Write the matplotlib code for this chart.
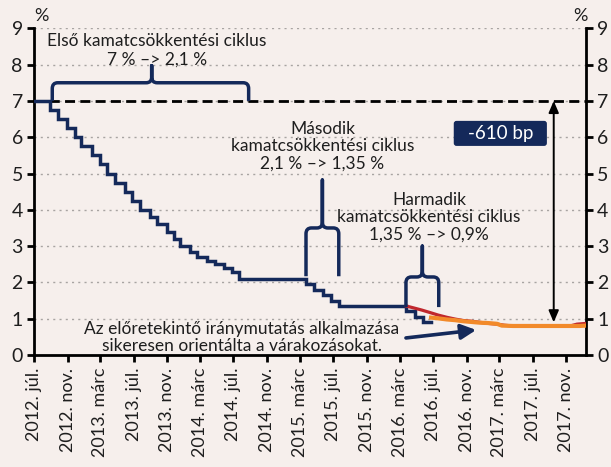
import matplotlib
matplotlib.use("Agg")
import matplotlib.pyplot as plt
import matplotlib.dates as mdates
from matplotlib.patches import FancyBboxPatch, PathPatch
from matplotlib.path import Path
import pandas as pd

plt.rcParams['font.family'] = ['Lato', 'DejaVu Sans']

# jegybanki alapkamat (%), hatályba lépés napja
base_dates = ["2012-07-01", "2012-08-29", "2012-09-26", "2012-10-31", "2012-11-28",
              "2012-12-19", "2013-01-30", "2013-02-27", "2013-03-27", "2013-04-24",
              "2013-05-29", "2013-06-26", "2013-07-24", "2013-08-28", "2013-09-25",
              "2013-10-30", "2013-11-27", "2013-12-18", "2014-01-22", "2014-02-19",
              "2014-03-26", "2014-04-23", "2014-05-28", "2014-06-25", "2014-07-23",
              "2015-03-25", "2015-04-22", "2015-05-27", "2015-06-24", "2015-07-22",
              "2016-03-23", "2016-04-27", "2016-05-25", "2016-06-24"]
base_rate = [7.0, 6.75, 6.5, 6.25, 6.0,
             5.75, 5.5, 5.25, 5.0, 4.75,
             4.5, 4.25, 4.0, 3.8, 3.6,
             3.4, 3.2, 3.0, 2.85, 2.7,
             2.6, 2.5, 2.4, 2.3, 2.1,
             1.95, 1.8, 1.65, 1.5, 1.35,
             1.2, 1.05, 0.9, 0.9]

# piaci várakozások (korábbi)
exp1_dates = ["2016-03-25", "2016-04-20", "2016-05-20", "2016-06-20", "2016-07-20",
              "2016-08-20", "2016-09-20", "2016-10-20", "2016-11-20", "2016-12-20",
              "2017-01-20", "2017-02-20", "2017-03-20", "2017-04-20", "2017-06-20",
              "2017-08-20", "2017-10-20", "2017-11-20", "2017-12-10", "2018-01-12"]
exp1_rate = [1.35, 1.3, 1.24, 1.17, 1.1,
             1.04, 0.99, 0.95, 0.93, 0.9,
             0.87, 0.85, 0.82, 0.8, 0.8,
             0.8, 0.8, 0.81, 0.85, 0.87]

# piaci várakozások (későbbi)
exp2_dates = ["2016-06-24", "2016-07-20", "2016-08-20", "2016-09-20", "2016-10-20",
              "2016-11-20", "2016-12-20", "2017-01-20", "2017-02-20", "2017-03-10",
              "2017-04-20", "2017-06-20", "2017-08-20", "2017-10-20", "2017-12-20",
              "2018-01-12"]
exp2_rate = [1.03, 1.01, 0.98, 0.96, 0.93,
             0.91, 0.89, 0.88, 0.86, 0.81,
             0.8, 0.8, 0.8, 0.8, 0.8,
             0.81]

tick_dates = ["2012-07-01", "2012-11-01", "2013-03-01", "2013-07-01", "2013-11-01",
              "2014-03-01", "2014-07-01", "2014-11-01", "2015-03-01", "2015-07-01",
              "2015-11-01", "2016-03-01", "2016-07-01", "2016-11-01", "2017-03-01",
              "2017-07-01", "2017-11-01"]
tick_labels = ["2012. júl.", "2012. nov.", "2013. márc", "2013. júl.", "2013. nov.",
               "2014. márc", "2014. júl.", "2014. nov.", "2015. márc", "2015. júl.",
               "2015. nov.", "2016. márc", "2016. júl.", "2016. nov.", "2017. márc",
               "2017. júl.", "2017. nov."]

navy = "#14295a"
red = "#c0272d"
orange = "#f28a2a"
bg = "#f6efec"
txt = "#1e1e1e"

d = lambda s: mdates.date2num(pd.Timestamp(s))

fig = plt.figure(figsize=(6.11, 4.67), dpi=100, facecolor=bg)
ax = fig.add_axes([0.0556, 0.2398, 0.9034, 0.6996], facecolor=bg)

ax.set_xlim(d("2012-07-01"), d("2018-01-12"))
ax.set_ylim(0, 9)

for yv in range(1, 10):
    ax.axhline(yv, color="#a8a4a2", lw=1, ls=(0, (1.5, 3)), zorder=1)
ax.axhline(7, color="black", lw=2, ls=(0, (3.6, 1.9)), zorder=2)

ax.step([d(s) for s in base_dates], base_rate, where="post", color=navy, lw=2.5,
        zorder=4, solid_joinstyle="miter")
ax.plot([d(s) for s in exp1_dates], exp1_rate, color=red, lw=2.3, zorder=5)
ax.plot([d(s) for s in exp2_dates], exp2_rate, color=orange, lw=3, zorder=6)


def brace(x0, x1, xm, y_leg, y_bar, y_peak, rx=20, ry=0.16):
    x0, x1, xm = d(x0), d(x1), d(xm)
    s = 1 if y_peak > y_bar else -1
    verts = [(x0, y_leg), (x0, y_bar - s * ry), (x0, y_bar), (x0 + rx, y_bar),
             (xm - rx, y_bar), (xm, y_bar), (xm, y_bar + s * ry), (xm, y_peak),
             (xm, y_bar + s * ry), (xm, y_bar), (xm + rx, y_bar),
             (x1 - rx, y_bar), (x1, y_bar), (x1, y_bar - s * ry), (x1, y_leg)]
    codes = [Path.MOVETO, Path.LINETO, Path.CURVE3, Path.CURVE3,
             Path.LINETO, Path.CURVE3, Path.CURVE3, Path.LINETO,
             Path.LINETO, Path.CURVE3, Path.CURVE3,
             Path.LINETO, Path.CURVE3, Path.CURVE3, Path.LINETO]
    ax.add_patch(PathPatch(Path(verts, codes), fill=False, ec=navy, lw=2.5,
                           capstyle="butt", joinstyle="round", zorder=7))


brace("2012-09-06", "2014-08-26", "2013-09-05", 7.0, 7.5, 7.97)
brace("2015-03-24", "2015-07-22", "2015-05-23", 2.17, 3.5, 4.82)
brace("2016-03-24", "2016-07-22", "2016-05-23", 1.32, 2.15, 3.0)

fs = 12.5
ax.text(d("2013-09-25"), 8.4, "Első kamatcsökkentési ciklus\n7 % –> 2,1 %",
        ha="center", va="center", fontsize=fs, color=txt, linespacing=1.2)
ax.text(d("2015-05-23"), 5.76, "Második\nkamatcsökkentési ciklus\n2,1 % –> 1,35 %",
        ha="center", va="center", fontsize=fs, color=txt, linespacing=1.1)
ax.text(d("2016-06-16"), 3.8, "Harmadik\nkamatcsökkentési ciklus\n1,35 % –> 0,9%",
        ha="center", va="center", fontsize=fs, color=txt, linespacing=1.1)
ax.text(d("2014-08-01"), 0.48,
        "Az előretekintő iránymutatás alkalmazása\nsikeresen orientálta a várakozásokat.",
        ha="center", va="center", fontsize=fs, color=txt, linespacing=1.1)

ax.annotate("", xy=(d("2016-12-06"), 0.69), xytext=(d("2016-03-24"), 0.47),
            arrowprops=dict(arrowstyle="-|>,head_length=0.9,head_width=0.45",
                            color=navy, lw=2.6, shrinkA=0, shrinkB=0), zorder=8)

ax.annotate("", xy=(d("2017-09-16"), 7.0), xytext=(d("2017-09-16"), 0.9),
            arrowprops=dict(arrowstyle="<|-|>,head_length=0.7,head_width=0.3",
                            color="black", lw=1.4, shrinkA=0, shrinkB=0), zorder=8)

box_x0, box_x1 = d("2016-09-15"), d("2017-08-22")
box = FancyBboxPatch((box_x0, 5.76), box_x1 - box_x0, 0.69,
                     boxstyle="round,pad=0,rounding_size=10",
                     mutation_aspect=0.0075, fc=navy, ec="none", zorder=8)
ax.add_patch(box)
ax.text((box_x0 + box_x1) / 2, 6.1, "-610 bp", ha="center", va="center",
        color="white", fontsize=13.5, zorder=9)

ax.set_yticks(range(0, 10))
ax.set_xticks([d(s) for s in tick_dates])
ax.set_xticklabels(tick_labels, rotation=90, fontsize=13, color=txt)
ax.tick_params(axis="y", which="both", left=True, right=True, labelleft=True,
               labelright=True, labelsize=14, length=5, width=2, direction="out",
               pad=3, labelcolor=txt)
ax.tick_params(axis="x", length=5, width=2, direction="out", pad=4)

for side in ["left", "right", "bottom"]:
    ax.spines[side].set_linewidth(2)
ax.spines["top"].set_visible(False)

fig.text(41 / 611, 1 - 16 / 467, "%", ha="center", va="center", fontsize=13, color=txt)
fig.text(580 / 611, 1 - 16 / 467, "%", ha="center", va="center", fontsize=13, color=txt)

fig.savefig("out.png", dpi=100, facecolor=bg)
